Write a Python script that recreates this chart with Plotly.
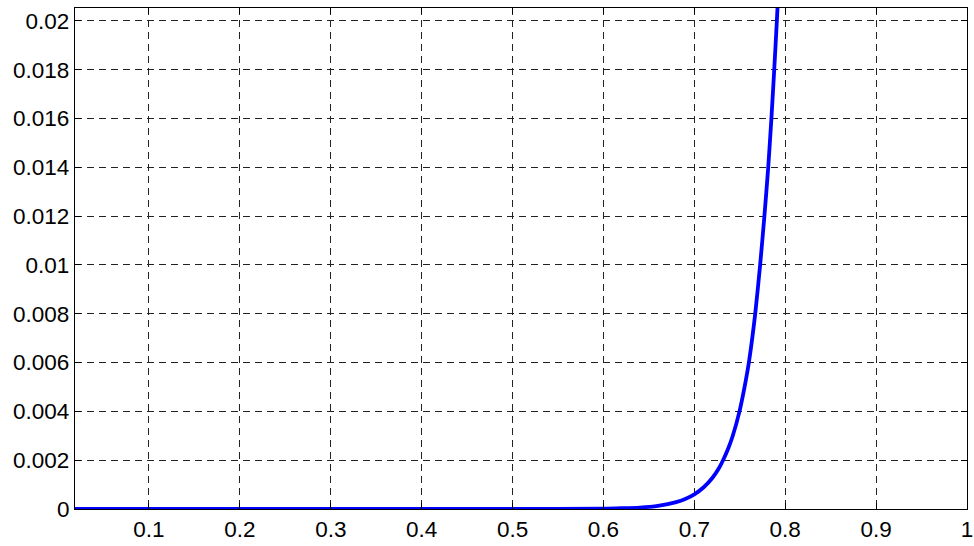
import plotly.graph_objects as go

x_vals = [0.0186, 0.1, 0.2, 0.3, 0.4, 0.5, 0.6, 0.62, 0.64, 0.66, 0.68, 0.69, 0.70,
          0.71, 0.72, 0.7275, 0.7325, 0.7375, 0.7423, 0.7497, 0.7553, 0.7600,
          0.7670, 0.7724, 0.7771, 0.7813, 0.7848, 0.7879, 0.7908, 0.7945]
y_vals = [0.0, 0.0, 0.0, 0.0, 0.0, 0.0, 0.00001, 0.00003, 0.00006, 0.00013, 0.00028,
          0.00041, 0.00060, 0.00088, 0.00128, 0.0017, 0.00207, 0.0025, 0.0030, 0.0040,
          0.0050, 0.0060, 0.0080, 0.0100, 0.0120, 0.0140, 0.0160, 0.0180, 0.0200,
          0.0228]

x_ticks = [0.1, 0.2, 0.3, 0.4, 0.5, 0.6, 0.7, 0.8, 0.9, 1.0]
x_tick_text = ["0.1", "0.2", "0.3", "0.4", "0.5", "0.6", "0.7", "0.8", "0.9", "1"]
y_ticks = [0, 0.002, 0.004, 0.006, 0.008, 0.01, 0.012, 0.014, 0.016, 0.018, 0.02]
y_tick_text = ["0", "0.002", "0.004", "0.006", "0.008", "0.01", "0.012", "0.014",
               "0.016", "0.018", "0.02"]

fig = go.Figure()
fig.add_trace(go.Scatter(x=x_vals, y=y_vals, mode="lines",
                         line=dict(color="#0000FF", width=3.8, shape="spline", smoothing=0.6),
                         showlegend=False))

axis_common = dict(
    showline=True, linecolor="black", linewidth=1.2, mirror="ticks",
    ticks="inside", ticklen=6, tickcolor="black", tickwidth=1,
    showgrid=True, gridcolor="#222222", gridwidth=1, griddash="7px,5px",
    zeroline=False, automargin=False,
    tickfont=dict(family="Liberation Sans, Arial", size=22.5, color="black"),
)

fig.update_xaxes(range=[0.0186, 1.0], tickvals=x_ticks, ticktext=x_tick_text, **axis_common)
fig.update_yaxes(range=[0, 0.02053], tickvals=y_ticks, ticktext=y_tick_text, **axis_common)

fig.update_layout(
    width=974, height=546,
    margin=dict(l=75, r=7, t=8, b=37),
    plot_bgcolor="white", paper_bgcolor="white",
)

fig.write_html("out.html")
